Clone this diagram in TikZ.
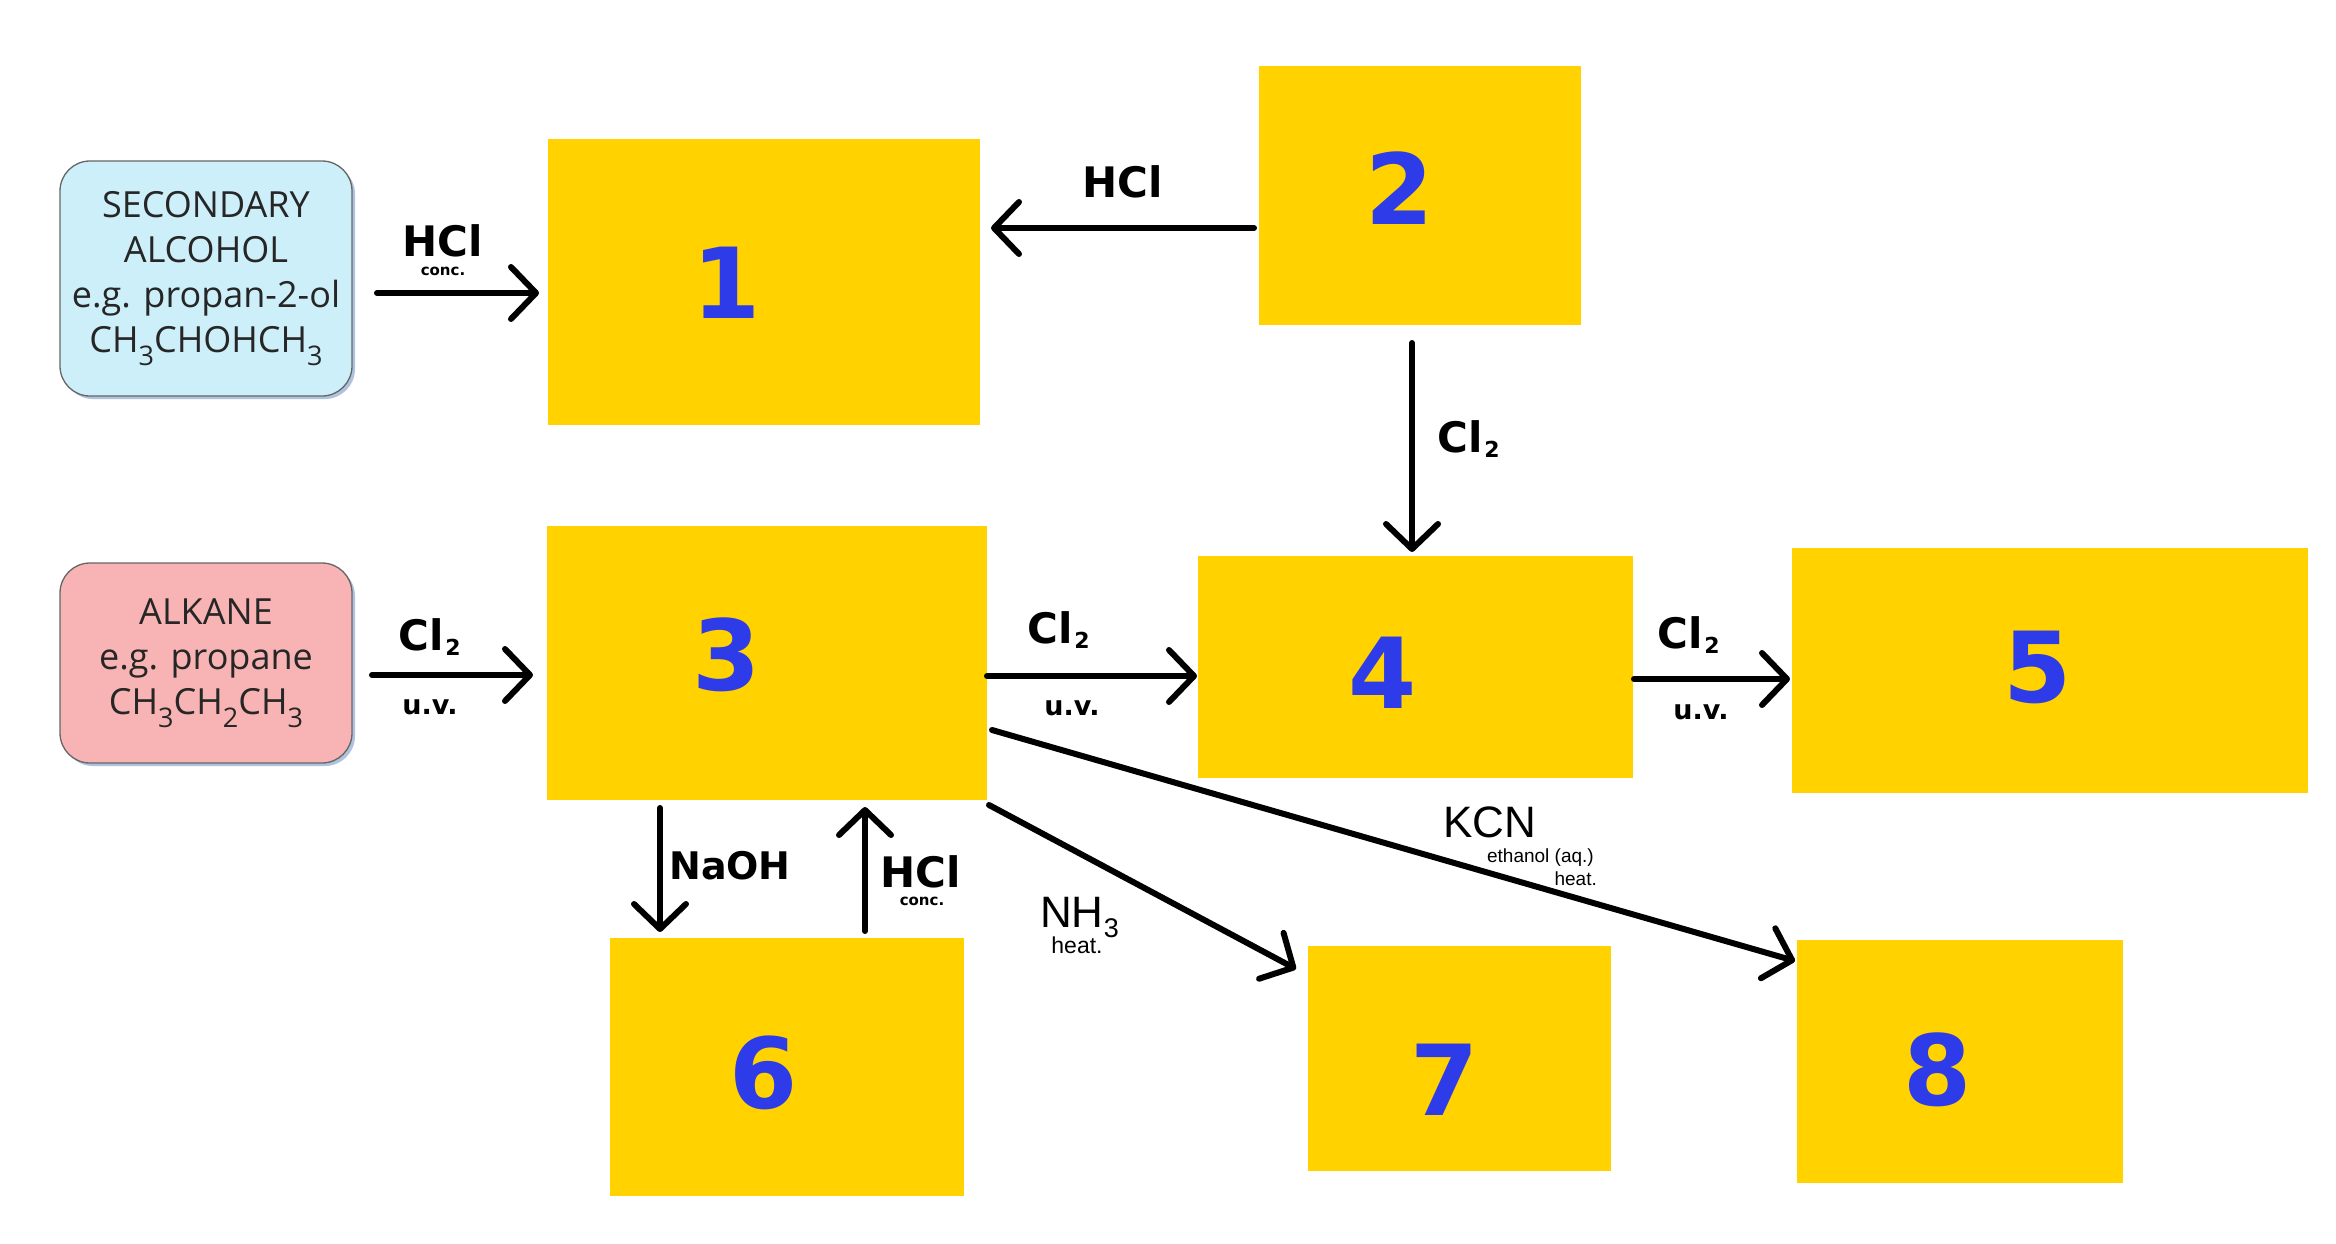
\documentclass[tikz,border=0pt]{standalone}
\usepackage{fontspec}
\setmainfont{DejaVu Sans}
\newfontfamily\boxfont{Open Sans}
\newfontfamily\arialfont{Liberation Sans}
\usetikzlibrary{arrows.meta,calc}
\definecolor{prodyellow}{HTML}{FFD200}
\definecolor{numblue}{HTML}{2E3BE8}
\definecolor{alcblue}{HTML}{CDEFFA}
\definecolor{alkpink}{HTML}{F8B4B4}
\definecolor{shadowblue}{HTML}{AFC2DE}
\newcommand\fsz[1]{\fontsize{#1}{#1}\selectfont}
\newcommand\bsub[1]{\raisebox{-13pt}{\fsz{27}#1}}
\newcommand\cltwo{Cl\kern2pt\raisebox{-5pt}{\fsz{22}2}}
\begin{document}
\begin{tikzpicture}[x=1pt,y=-1pt,
  prod/.style={fill=prodyellow, inner sep=0pt, outer sep=0pt},
  num/.style={text=numblue, font=\bfseries\fsz{98}, inner sep=0pt},
  startbox/.style={draw=black!60, line width=1.3pt, rounded corners=30pt, inner sep=0pt, outer sep=0pt,
    align=center, font=\boxfont\fontsize{36}{45}\selectfont, text=black!85, minimum width=292pt,
    preaction={fill=shadowblue, transform canvas={shift={(3pt,-3pt)}}}},
  rx/.style={line width=6pt, line cap=round, -{Straight Barb[length=25pt,width=52pt,round]}},
  reag/.style={font=\bfseries\fsz{42}, inner sep=0pt},
  cond/.style={font=\bfseries\fsz{15}, inner sep=0pt},
  uv/.style={font=\bfseries\fsz{27}, inner sep=0pt},
  areag/.style={font=\arialfont\fsz{44}, inner sep=0pt},
  acond/.style={font=\arialfont\fsz{19}, inner sep=0pt}]
\fill[white] (0,0) rectangle (2336,1244);
\useasboundingbox (0,0) rectangle (2336,1244);

% start boxes
\node[startbox, fill=alcblue, minimum height=235pt] (s1) at (206,278.5)
  {SECONDARY\\ALCOHOL\\e.g. propan-2-ol\\CH\bsub{3}CHOHCH\bsub{3}};
\node[startbox, fill=alkpink, minimum height=200pt] (s2) at (206,663)
  {ALKANE\\e.g. propane\\CH\bsub{3}CH\bsub{2}CH\bsub{3}};

% product boxes
\node[prod, minimum width=432pt, minimum height=286pt] (p1) at (764,282) {};
\node[prod, minimum width=322pt, minimum height=259pt] (p2) at (1420,195.5) {};
\node[prod, minimum width=440pt, minimum height=274pt] (p3) at (767,663) {};
\node[prod, minimum width=435pt, minimum height=222pt] (p4) at (1415.5,667) {};
\node[prod, minimum width=516pt, minimum height=245pt] (p5) at (2050,670.5) {};
\node[prod, minimum width=354pt, minimum height=258pt] (p6) at (787,1067) {};
\node[prod, minimum width=303pt, minimum height=225pt] (p7) at (1459.5,1058.5) {};
\node[prod, minimum width=326pt, minimum height=243pt] (p8) at (1960,1061.5) {};

% numbers
\node[num] (n1) at (727,283) {1};
\node[num] (n2) at (1400,188) {2};
\node[num] (n3) at (727,655) {3};
\node[num] (n4) at (1383,673) {4};
\node[num] (n5) at (2038,667) {5};
\node[num] (n6) at (764,1073) {6};
\node[num] (n7) at (1445,1080) {7};
\node[num] (n8) at (1938,1070) {8};

% arrows
\draw[rx] ($(s1.east)+(25,14.5)$) -- ($(p1.west)+(-9,11)$);
\draw[rx] ($(p2.west)+(-5,32.5)$) -- ($(p1.east)+(11,-54)$);
\draw[rx] ($(p2.south)+(-8,18)$) -- ($(p4.north)+(-3.5,-4)$);
\draw[rx] ($(s2.east)+(20,12)$) -- ($(p3.west)+(-14,12)$);
\draw[rx] ($(p3.east)+(0,13)$) -- ($(p4.west)+(-1,9)$);
\draw[rx] ($(p4.east)+(1,12)$) -- ($(p5.west)+(-2,8.5)$);
\draw[rx] ($(p3.south)+(-107,8)$) -- ($(p6.north)+(-127,-6)$);
\draw[rx] ($(p6.north)+(78,-7)$) -- ($(p3.south)+(98,7)$);
\draw[rx] ($(p3.south east)+(2,5)$) -- ($(p7.north west)+(-12,23)$);
\draw[rx] ($(p3.east)+(5,67)$) -- ($(p8.west)+(-2,-100.5)$);

% labels
\node[reag] (l1) at (443,241) {HCl};
\node[cond] (l1c) at (443,271) {conc.};
\node[reag] (l2) at (1123,182) {HCl};
\node[reag, anchor=base west] (l3) at (1437,452) {\cltwo};
\node[reag, anchor=base west] (l4) at (398,650) {\cltwo};
\node[uv] (l4c) at (430,707) {u.v.};
\node[reag, anchor=base west] (l5) at (1027,643) {\cltwo};
\node[uv] (l5c) at (1072,708) {u.v.};
\node[reag, anchor=base west] (l6) at (1657,648) {\cltwo};
\node[uv] (l6c) at (1701,712) {u.v.};
\node[reag, font=\bfseries\fsz{38}, anchor=west] (l7) at (669,866) {NaOH};
\node[reag] (l8) at (921,872) {HCl};
\node[cond] (l8c) at (922,901) {conc.};
\node[areag] (l9) at (1490,822) {KCN};
\node[acond, anchor=east] (l9a) at (1594,858) {ethanol (aq.)};
\node[acond, anchor=east] (l9b) at (1597,879) {heat.};
\node[areag, anchor=base west] (l10) at (1040,927) {NH\raisebox{-10pt}{\fsz{27}3}};
\node[acond, font=\arialfont\fsz{23}] (l10c) at (1077,945) {heat.};
\end{tikzpicture}
\end{document}
